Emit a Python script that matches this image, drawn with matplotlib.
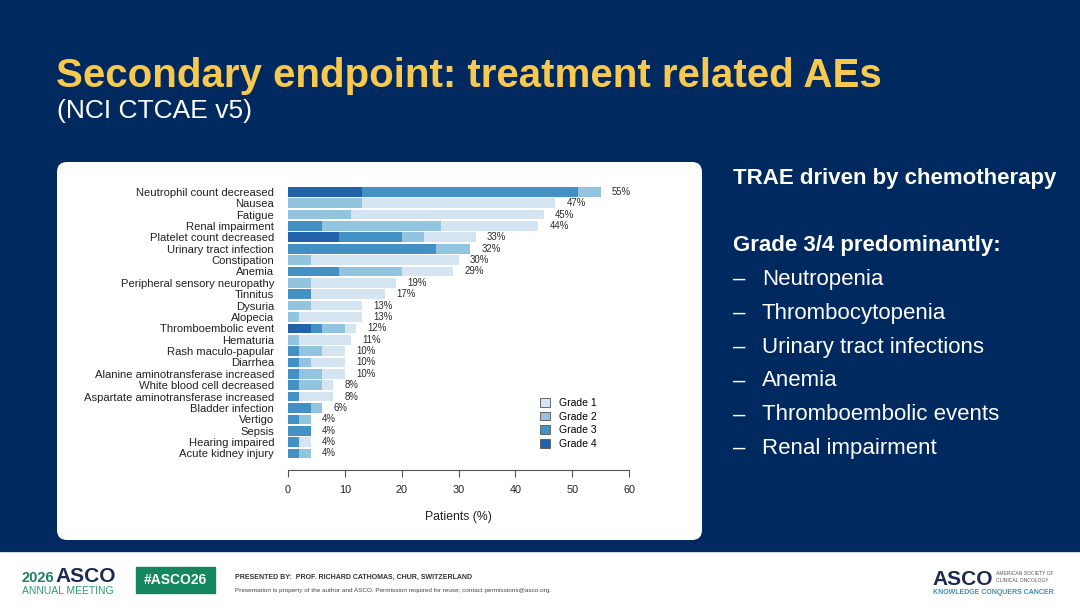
import numpy as np
import matplotlib.pyplot as plt
from matplotlib.patches import FancyBboxPatch, Rectangle

plt.rcParams['font.family'] = ['Liberation Sans', 'DejaVu Sans']

# adverse events, top to bottom
events = [
    "Neutrophil count decreased", "Nausea", "Fatigue", "Renal impairment",
    "Platelet count decreased", "Urinary tract infection", "Constipation",
    "Anemia", "Peripheral sensory neuropathy", "Tinnitus", "Dysuria",
    "Alopecia", "Thromboembolic event", "Hematuria", "Rash maculo-papular",
    "Diarrhea", "Alanine aminotransferase increased", "White blood cell decreased",
    "Aspartate aminotransferase increased", "Bladder infection", "Vertigo",
    "Sepsis", "Hearing impaired", "Acute kidney injury",
]
grade4 = [13, 0, 0, 0, 9, 0, 0, 0, 0, 0, 0, 0, 4, 0, 0, 0, 0, 0, 0, 0, 0, 0, 0, 0]
grade3 = [38, 0, 0, 6, 11, 26, 0, 9, 0, 4, 0, 0, 2, 0, 2, 2, 2, 2, 2, 4, 2, 4, 2, 2]
grade2 = [4, 13, 11, 21, 4, 6, 4, 11, 4, 0, 4, 2, 4, 2, 4, 2, 4, 4, 0, 2, 2, 0, 0, 2]
grade1 = [0, 34, 34, 17, 9, 0, 26, 9, 15, 13, 9, 11, 2, 9, 4, 6, 4, 2, 6, 0, 0, 0, 2, 0]
totals = [55, 47, 45, 44, 33, 32, 30, 29, 19, 17, 13, 13, 12, 11, 10, 10, 10, 8, 8, 6, 4, 4, 4, 4]

bullets = ["Neutropenia", "Thrombocytopenia", "Urinary tract infections",
           "Anemia", "Thromboembolic events", "Renal impairment"]

navy = "#002a5f"
colors = {"Grade 1": "#d4e5f1", "Grade 2": "#93c4df", "Grade 3": "#4390c4", "Grade 4": "#2262a8"}

W, H = 1080, 608
fig = plt.figure(figsize=(W / 100, H / 100), dpi=100)
fig.patch.set_facecolor("white")

# background layer in pixel coordinates
bg = fig.add_axes([0, 0, 1, 1])
bg.set_xlim(0, W)
bg.set_ylim(H, 0)
bg.axis("off")
bg.add_patch(Rectangle((0, 0), W, 551, color=navy, zorder=0))
bg.add_patch(FancyBboxPatch((65, 170), 629, 362, boxstyle="round,pad=8,rounding_size=10",
                            facecolor="white", edgecolor="none", zorder=1))

bg.text(56, 87, "Secondary endpoint: treatment related AEs", color="#f7c94e",
        fontsize=29, fontweight="bold", va="baseline")
bg.text(57, 118, "(NCI CTCAE v5)", color="white", fontsize=19, va="baseline")

bg.text(733, 184, "TRAE driven by chemotherapy", color="white", fontsize=16,
        fontweight="bold", va="baseline")
bg.text(733, 251, "Grade 3/4 predominantly:", color="white", fontsize=16,
        fontweight="bold", va="baseline")
for i, b in enumerate(bullets):
    y = 285 + i * 33.8
    bg.text(733, y, "\u2013", color="white", fontsize=16, va="baseline")
    bg.text(762, y, b, color="white", fontsize=16, va="baseline")

# footer
bg.text(22, 582, "2026", color="#1f7f5c", fontsize=10.5, fontweight="bold", va="baseline")
bg.text(55, 582, "ASCO", color="#1c2a55", fontsize=15, fontweight="bold", va="baseline")
bg.text(22, 594, "ANNUAL MEETING", color="#2d9a76", fontsize=7.5, va="baseline")
bg.add_patch(Rectangle((136, 567), 79, 26, color="#15875e"))
bg.text(175.5, 580, "#ASCO26", color="white", fontsize=10, fontweight="bold",
        ha="center", va="center")
bg.text(235, 579, "PRESENTED BY:  PROF. RICHARD CATHOMAS, CHUR, SWITZERLAND",
        color="#333333", fontsize=5, fontweight="bold", va="baseline")
bg.text(235, 592, "Presentation is property of the author and ASCO. Permission required for reuse; "
        "contact permissions@asco.org.", color="#444444", fontsize=4.6, va="baseline")
bg.text(932, 585, "ASCO", color="#1c2a55", fontsize=15, fontweight="bold", va="baseline")
bg.text(996, 575, "AMERICAN SOCIETY OF", color="#555555", fontsize=3.6, va="baseline")
bg.text(996, 582, "CLINICAL ONCOLOGY", color="#555555", fontsize=3.6, va="baseline")
bg.text(933, 594, "KNOWLEDGE CONQUERS CANCER", color="#3a8fb8", fontsize=5,
        fontweight="bold", va="baseline")

# bar chart axes, placed in pixel positions
x0, x1 = 288, 629
y_top, y_bot = 185, 466
ax = fig.add_axes([x0 / W, 1 - y_bot / H, (x1 - x0) / W, (y_bot - y_top) / H])
ax.set_facecolor("none")

ypos = np.arange(len(events))
left = np.zeros(len(events))
for name, vals in [("Grade 4", grade4), ("Grade 3", grade3), ("Grade 2", grade2), ("Grade 1", grade1)]:
    ax.barh(ypos, vals, left=left, height=0.85, color=colors[name], label=name)
    left += np.array(vals)

for y, t in zip(ypos, totals):
    ax.text(t + 2, y, f"{t}%", fontsize=6.9, va="center", ha="left", color="#2a2a2a")

ax.set_xlim(0, 60)
ax.set_ylim(24.1, -0.6)
ax.set_yticks(ypos)
ax.set_yticklabels(events, fontsize=8.1, color="#222222")
ax.tick_params(axis="y", length=0, pad=10)
ax.set_xticks(np.arange(0, 61, 10))
ax.tick_params(axis="x", labelsize=7.8, length=5, color="#555555", labelcolor="#222222", pad=6)
for s in ["top", "right", "left"]:
    ax.spines[s].set_visible(False)
ax.spines["bottom"].set_position(("outward", 3))
ax.spines["bottom"].set_bounds(0, 60)
ax.spines["bottom"].set_color("#555555")
ax.set_xlabel("Patients (%)", fontsize=8.8, color="#222222", labelpad=11)

handles, labels = ax.get_legend_handles_labels()
leg = ax.legend(handles[::-1], labels[::-1], loc="lower right", bbox_to_anchor=(0.933, 0.027),
                frameon=False, fontsize=7.5, handlelength=0.9, handleheight=0.9,
                handletextpad=0.9, labelspacing=0.35)
for h in leg.legend_handles:
    h.set_edgecolor("#555555")
    h.set_linewidth(0.6)

fig.savefig("out.png", dpi=100, facecolor=fig.get_facecolor())
